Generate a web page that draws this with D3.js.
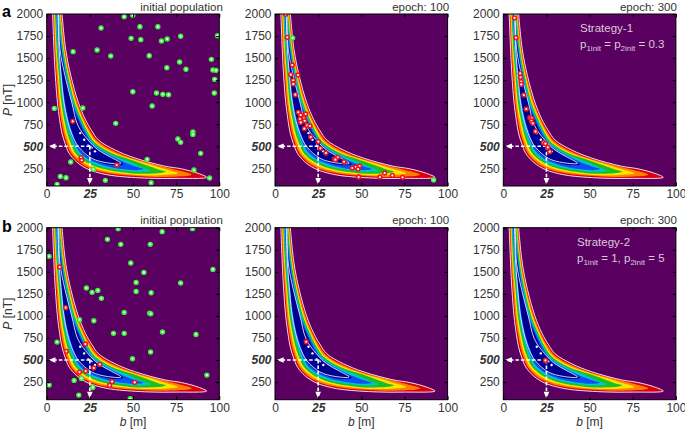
<!DOCTYPE html>
<html><head><meta charset="utf-8">
<script src="https://cdn.jsdelivr.net/npm/d3@7"></script>
<style>html,body{margin:0;background:#fff}svg{display:block}text{font-family:"Liberation Sans",Arial,sans-serif}</style>
</head><body><svg id="c" width="685" height="429"></svg>
<script>
const xTicks=[0,25,50,75,100];
const yTicks=[250,500,750,1000,1250,1500,1750,2000];
const bandColors=["#dc0010","#ff8000","#f8e400","#1ebe28","#00c4d8","#0a50f0","#000090"];
const contourRed=[[3.1,2150],[3.4,2000],[4.2,1600],[5,1300],[6.2,1000],[7.5,800],[8.8,650],[10.6,534],[13,420],[17.2,325],[21,270],[25,231],[32,190],[40,163],[59,138],[75,136],[92.7,148],[87.8,193],[78,245],[68.4,275],[51,368],[39.6,458],[30,571],[26,680],[22.5,800],[18.3,1000],[14,1300],[11,1600],[8.9,2000],[8.4,2150]];
const contourOrange=[[3.6,2150],[3.9,2000],[4.8,1600],[5.8,1300],[7,1000],[8.4,800],[9.9,650],[11.7,534],[14.2,420],[18.6,325],[22.5,275],[26.5,240],[33,205],[41,180],[50,165],[60,155],[72,155],[84,178],[72,248],[62,298],[50,362],[39,445],[29.3,560],[25.2,672],[21.7,800],[17.6,1000],[13.4,1300],[10.5,1600],[8.4,2000],[7.9,2150]];
const contourYellow=[[4.1,2150],[4.4,2000],[5.3,1600],[6.5,1300],[7.7,1000],[9.3,800],[10.9,650],[12.8,534],[15.4,420],[19.8,335],[24,285],[28,250],[34,220],[42,195],[50,178],[60,170],[70,178],[76,195],[68,245],[60,295],[50,353],[38.2,434],[28.6,550],[24.5,665],[21,800],[16.9,1000],[12.9,1300],[10,1600],[8,2000],[7.5,2150]];
const contourGreen=[[4.5,2150],[4.8,2000],[5.8,1600],[7.1,1300],[8.5,1000],[10.2,800],[11.9,650],[13.9,534],[16.6,425],[21,345],[25.5,295],[29.5,262],[35.5,232],[43,208],[50,192],[60,190],[69,212],[65,235],[58,285],[50,340],[37.5,424],[28,540],[23.9,655],[20.3,800],[16.2,1000],[12.4,1300],[9.6,1600],[7.6,2000],[7.2,2150]];
const contourCyan=[[4.9,2150],[5.2,2000],[6.3,1600],[7.7,1300],[9.2,1000],[11,800],[12.9,650],[15,534],[17.8,430],[22.1,355],[26.5,305],[31,272],[37,245],[44,225],[50,212],[55,212],[60,225],[55,262],[48,325],[36.8,414],[27.5,530],[23.4,648],[19.6,800],[15.6,1000],[11.9,1300],[9.2,1600],[7.2,2000],[6.8,2150]];
const contourBlue=[[5.3,2150],[5.6,2000],[6.8,1600],[8.2,1300],[9.9,1000],[11.8,800],[13.9,650],[16.1,534],[19,435],[23.2,365],[28,318],[32.5,284],[38.5,258],[45,240],[50,230],[53,232],[56,242],[52,268],[46,310],[36,404],[27,520],[23,640],[19,800],[15,1000],[11.4,1300],[8.8,1600],[6.9,2000],[6.6,2150]];
const contourNavy=[[7.1,1780],[7.4,1600],[8.8,1300],[10.6,1000],[12.7,800],[15,650],[17.3,534],[20.4,440],[24.4,375],[29,330],[34,300],[40,285],[44.5,298],[41,340],[35,395],[26.5,510],[22,640],[18.2,800],[14.3,1000],[10.9,1300],[8.4,1600]];
const whiteLoop=[[6.3,2150],[6.5,2000],[7.2,1600],[8.6,1250],[10,1000],[12,800],[14.5,640],[18.4,495],[26.1,364],[34.8,314],[43,307],[36.6,382],[29.9,458],[24,571],[18,740],[14.5,1000],[10.6,1300],[7.7,1600],[6.9,2000],[6.7,2150]];
const whiteCore=[[23.8,518],[25.2,505],[26.7,480],[24.6,492],[23.8,518]];
const whiteIslands=[[19.4,650],[21.7,575],[28,443]];
const a1Green=[[44.9,1970],[49.9,1985],[31.5,1841],[54,1856],[64.4,1856],[48.9,1724],[54.5,1709],[66.5,1694],[69.8,1716],[77.6,1747],[99,1754],[15.3,1573],[29.2,1592],[37.1,1524],[59.4,1527],[95.4,1486],[77,1456],[69.6,1391],[80.7,1373],[96.3,1365],[98.1,1361],[97.3,1259],[49.9,1119],[63.6,1104],[67.3,1089],[70.6,1085],[97.1,1104],[61.1,957],[4.4,930],[20.9,934],[40,760],[84.7,662],[84.7,635],[76,582],[77.6,545],[89.2,420],[58.2,352],[13.9,322],[85.3,231],[27.1,239],[7.9,159],[11.2,144],[34,114],[94.4,140],[6,68],[60.5,87]];
const a1Red=[[15.1,783],[19.9,371],[20.3,341],[40.6,288]];
const a2Green=[[10.2,1728],[91.9,118]];
const a2Red=[[6.2,1996],[7.1,1735],[10,1422],[9.1,1312],[13.3,1308],[10.6,1248],[10.6,1206],[11.8,1085],[13.5,885],[14.9,855],[17.8,866],[16.8,817],[14.5,809],[14.9,771],[17.2,790],[18.7,737],[20.3,730],[17,700],[20.7,605],[25.1,552],[26.3,477],[29.5,424],[34.4,356],[36.3,375],[35,349],[40,325],[44.8,254],[46.9,265],[49,276],[48.1,242],[48.5,152],[60.8,152],[63.5,197],[68,171],[73.9,148]];
const a3Green=[];
const a3Red=[[6.5,1955],[7.3,1732],[9.8,1327],[10,1282],[10.4,1233],[10.4,1202],[11.9,1081],[13.3,923],[15.4,824],[16.5,817],[16.3,787],[17.1,760],[18.7,669],[23.3,541],[24.4,530],[25.8,488],[26.9,439]];
const b1Green=[[41.4,1989],[66.9,1955],[84.5,1989],[35.2,1868],[42.9,1811],[60,1811],[1.4,1675],[48.7,1599],[56.3,1493],[96.3,1527],[51.8,1380],[77.6,1373],[23,1316],[29.6,1289],[26.3,1267],[51.8,1278],[60.5,1263],[31.7,1199],[44.9,1040],[59.6,1032],[60.3,1025],[19,957],[27.3,945],[38.7,802],[44.9,802],[67.1,817],[86.5,790],[6,703],[60.2,590],[49.7,514],[92.8,329],[15.9,269],[20.1,291],[26.7,189],[18.6,102],[1.4,216],[48.4,61]];
const b1Red=[[7.5,1554],[11,1093],[22.4,681],[11.4,598],[30.8,450],[27.3,409],[22.6,375],[19,363],[37.9,254],[51,246],[36.4,212]];
const b2Green=[];
const b2Red=[[18.1,707]];
const b3Green=[];
const b3Red=[[24.4,495]];
const titles=["initial population","epoch: 100","epoch: 300"];

const svg=d3.select("#c");
const defs=svg.append("defs");
defs.append("filter").attr("id","soft").attr("x","-5%").attr("y","-5%").attr("width","110%").attr("height","110%")
 .append("feGaussianBlur").attr("stdDeviation",0.45);
const lefts=[46.7,275,503.3],tops=[14,227.7],W=172.6,H=172;
const contours=[contourRed,contourOrange,contourYellow,contourGreen,contourCyan,contourBlue,contourNavy];
const panels=[[a1Green,a1Red],[a2Green,a2Red],[a3Green,a3Red],[b1Green,b1Red],[b2Green,b2Red],[b3Green,b3Red]];
const tickCol="#333";
panels.forEach((p,i)=>{
  const col=i%3,row=Math.floor(i/3),L=lefts[col],T=tops[row];
  const x=d3.scaleLinear().domain([0,100]).range([L,L+W]);
  const y=d3.scaleLinear().domain([50,2000]).range([T+H,T]);
  const cid="clip"+i;
  defs.append("clipPath").attr("id",cid).append("rect").attr("x",L).attr("y",T).attr("width",W).attr("height",H);
  const g=svg.append("g");
  g.append("rect").attr("x",L).attr("y",T).attr("width",W).attr("height",H).attr("fill","#5a0060");
  const field=g.append("g").attr("clip-path",`url(#${cid})`).append("g").attr("filter","url(#soft)");
  const closed=d3.line().x(d=>x(d[0])).y(d=>y(d[1])).curve(d3.curveCatmullRomClosed.alpha(0.5));
  const open=d3.line().x(d=>x(d[0])).y(d=>y(d[1])).curve(d3.curveCatmullRom.alpha(0.5));
  contours.forEach((c,k)=>{
    field.append("path").attr("d",closed(c)).attr("fill",bandColors[k]);
  });
  const over=g.append("g").attr("clip-path",`url(#${cid})`);
  over.append("path").attr("d",closed(contourRed)).attr("fill","none").attr("stroke","#f4e8f4").attr("stroke-width",1).attr("opacity",.95);
  over.append("path").attr("d",closed(whiteLoop)).attr("fill","none").attr("stroke","#fff").attr("stroke-width",.9).attr("opacity",.9);
  over.append("path").attr("d",open(whiteCore)).attr("fill","none").attr("stroke","#fff").attr("stroke-width",.9);
  over.selectAll(".isl").data(whiteIslands).join("circle").attr("cx",d=>x(d[0])).attr("cy",d=>y(d[1])).attr("r",1.2).attr("fill","#fff");
  over.append("line").attr("x1",x(25)).attr("y1",y(500)).attr("x2",x(4)).attr("y2",y(500)).attr("stroke","#fff").attr("stroke-width",1.6).attr("stroke-dasharray","3.5 2");
  over.append("line").attr("x1",x(25)).attr("y1",y(500)).attr("x2",x(25)).attr("y2",y(120)).attr("stroke","#fff").attr("stroke-width",1.6).attr("stroke-dasharray","3.5 2");
  over.append("path").attr("fill","#fff").attr("d",`M${x(1)},${y(500)}l7,-2.8v5.6z`);
  over.append("path").attr("fill","#fff").attr("d",`M${x(25)},${y(60)}l-2.8,-7h5.6z`);
  const mark=(data,color)=>over.append("g").selectAll("circle").data(data).join("circle")
    .attr("cx",d=>x(d[0])).attr("cy",d=>y(d[1])).attr("r",1.9).attr("fill","#fff").attr("stroke",color).attr("stroke-width",1.6);
  mark(p[0],"#39ef3c"); mark(p[1],"#f0141e");
  g.append("rect").attr("x",L).attr("y",T).attr("width",W).attr("height",H).attr("fill","none").attr("stroke","#000").attr("stroke-width",1);
  const ax=(axis,tx,ty,labels)=>{
    const a=g.append("g").attr("transform",`translate(${tx},${ty})`).call(axis);
    a.select(".domain").remove();
    a.selectAll("line").attr("stroke","#000");
    a.selectAll("text").attr("fill",tickCol).style("font-size","12px");
    if(!labels) a.selectAll("text").remove();
    return a;
  };
  const xa=ax(d3.axisBottom(x).tickValues(xTicks).tickSize(-3.5).tickPadding(3.5),0,T+H,true);
  xa.selectAll("text").filter(d=>d===25).style("font-weight","bold").style("font-style","italic");
  ax(d3.axisTop(x).tickValues(xTicks).tickSize(-3.5),0,T,false);
  const ya=ax(d3.axisLeft(y).tickValues(yTicks).tickFormat(d3.format("d")).tickSize(-3.5).tickPadding(3.5),L,0,true);
  ya.selectAll("text").filter(d=>d===500).style("font-weight","bold").style("font-style","italic");
  ax(d3.axisRight(y).tickValues(yTicks).tickSize(-3.5),L+W,0,false);
  svg.append("text").attr("x",L+W+(col==2?1:(col==1?1.5:3.5))).attr("y",T-3.5).attr("text-anchor","end").attr("fill",tickCol).style("font-size","11.5px").text(titles[col]);
  if(row==1){
    const t=svg.append("text").attr("x",L+W/2).attr("y",T+H+26.5).attr("text-anchor","middle").attr("fill",tickCol).style("font-size","12px");
    t.append("tspan").style("font-style","italic").text("b");
    t.append("tspan").text(" [m]");
  }
  if(col==0){
    const t=svg.append("text").attr("transform",`translate(12,${T+86}) rotate(-90)`).attr("text-anchor","middle").attr("fill",tickCol).style("font-size","12px");
    t.append("tspan").style("font-style","italic").text("P");
    t.append("tspan").text(" [nT]");
  }
});
svg.append("text").attr("x",2).attr("y",17).style("font-weight","bold").style("font-size","16px").text("a");
svg.append("text").attr("x",2).attr("y",232).style("font-weight","bold").style("font-size","16px").text("b");
const note=(xp,y1,lead,parts)=>{
  svg.append("text").attr("x",xp).attr("y",y1).attr("fill","#dcc8dc").style("font-size","11.5px").text(lead);
  const t=svg.append("text").attr("x",xp).attr("y",y1+16).attr("fill","#dcc8dc").style("font-size","11.5px");
  parts.forEach(q=>{
    const s=t.append("tspan").text(q[0]);
    if(q[1]) s.attr("dy",2.5).style("font-size","8px");
    if(q[2]) s.attr("dy",-2.5);
  });
};
note(580,32,"Strategy-1",[["p"],["1init",1],[" = p",0,1],["2init",1],[" = 0.3",0,1]]);
note(577,246,"Strategy-2",[["p"],["1init",1],[" = 1, p",0,1],["2init",1],[" = 5",0,1]]);
</script></body></html>
